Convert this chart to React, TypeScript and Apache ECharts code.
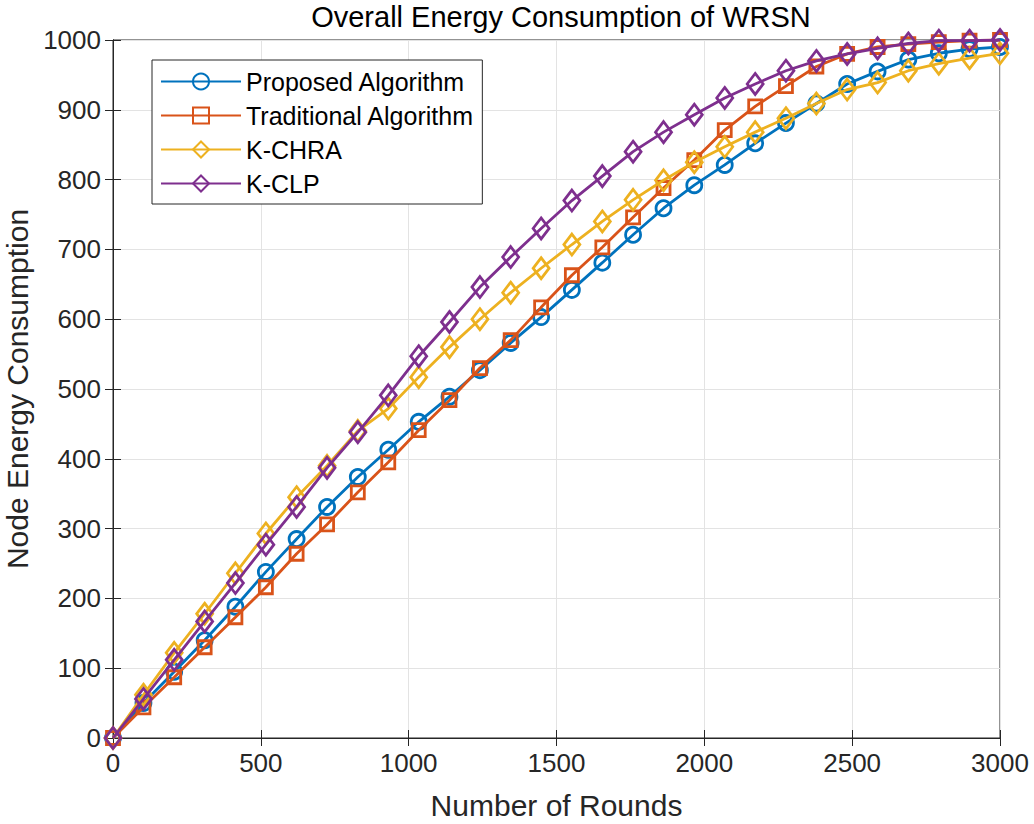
import React, { useEffect, useRef } from "react";
import * as echarts from "echarts";

const rounds: number[] = Array.from({ length: 30 }, (_, i) => Math.round((i * 3000) / 29));

const proposed = [0, 50, 95, 140, 188, 238, 285, 331, 374, 413, 453, 489, 527, 566, 603, 642, 681, 721, 759, 792, 821, 852, 881, 909, 937, 955, 972, 981, 987, 990];
const traditional = [0, 44, 87, 130, 173, 216, 264, 306, 352, 395, 441, 484, 530, 570, 617, 663, 703, 746, 788, 828, 871, 905, 934, 962, 980, 990, 994, 997, 999, 1000];
const kchra = [0, 62, 122, 178, 236, 293, 345, 390, 440, 472, 517, 560, 600, 638, 673, 707, 740, 771, 799, 825, 847, 868, 888, 909, 929, 939, 956, 966, 974, 981];
const kclp = [0, 56, 112, 167, 222, 277, 331, 387, 438, 491, 547, 596, 646, 689, 730, 770, 805, 840, 868, 893, 917, 937, 956, 970, 980, 988, 995, 999, 999, 1000];

const seriesNames = ["Proposed Algorithm", "Traditional Algorithm", "K-CHRA", "K-CLP"];
const colors = ["#0072BD", "#D95319", "#EDB120", "#7E2F8E"];
const symbols = ["circle", "rect", "diamond", "diamond"];
const symbolSizes: any[] = [15, 13, [16, 21], [16, 21]];
const seriesData = [proposed, traditional, kchra, kclp];

const FONT = "'Liberation Sans', Arial, Helvetica, sans-serif";

export default function App() {
  const ref = useRef<HTMLDivElement>(null);
  useEffect(() => {
    if (!ref.current) return;
    const chart = echarts.init(ref.current, undefined, { renderer: "svg" });
    const axisColor = "#262626";
    const plain = (v: number) => String(v);
    chart.setOption({
      animation: false,
      backgroundColor: "#ffffff",
      title: {
        text: "Overall Energy Consumption of WRSN",
        left: 556,
        top: -3,
        textAlign: "center",
        textStyle: { fontFamily: FONT, fontSize: 29, fontWeight: "normal", color: "#000" },
      },
      legend: {
        orient: "vertical",
        left: 152,
        top: 60,
        padding: [9, 8, 8, 8],
        itemGap: 9,
        itemWidth: 80,
        itemHeight: 20,
        backgroundColor: "#fff",
        borderColor: "#262626",
        borderWidth: 1,
        borderRadius: 0,
        textStyle: { fontFamily: FONT, fontSize: 25, color: "#000", lineHeight: 24 },
        data: seriesNames,
      },
      grid: {
        left: 113,
        right: 34,
        top: 40,
        bottom: 86,
        containLabel: false,
        outerBoundsMode: "none",
        show: true,
        borderColor: axisColor,
        borderWidth: 1,
        backgroundColor: "#fff",
      },
      xAxis: [
        {
          type: "value",
          min: 0,
          max: 3000,
          interval: 500,
          name: "Number of Rounds",
          nameLocation: "middle",
          nameGap: 52,
          nameTextStyle: { fontFamily: FONT, fontSize: 30, color: "#262626" },
          axisLine: { show: true, lineStyle: { color: axisColor, width: 1 } },
          axisTick: { show: true, inside: true, length: 8, lineStyle: { color: axisColor } },
          axisLabel: { fontFamily: FONT, fontSize: 26, color: "#262626", margin: 12, formatter: plain },
          splitLine: { show: true, lineStyle: { color: "#e3e3e3", width: 1 } },
        },
        {
          type: "value",
          position: "top",
          min: 0,
          max: 3000,
          interval: 500,
          axisLine: { show: true, lineStyle: { color: axisColor, width: 1 } },
          axisTick: { show: true, inside: true, length: 8, lineStyle: { color: axisColor } },
          axisLabel: { show: false },
          splitLine: { show: false },
        },
      ],
      yAxis: [
        {
          type: "value",
          min: 0,
          max: 1000,
          interval: 100,
          name: "Node Energy Consumption",
          nameLocation: "middle",
          nameGap: 79,
          nameRotate: 90,
          nameTextStyle: { fontFamily: FONT, fontSize: 30, color: "#262626" },
          axisLine: { show: true, lineStyle: { color: axisColor, width: 1 } },
          axisTick: { show: true, inside: true, length: 8, lineStyle: { color: axisColor } },
          axisLabel: { fontFamily: FONT, fontSize: 26, color: "#262626", margin: 12, formatter: plain },
          splitLine: { show: true, lineStyle: { color: "#e3e3e3", width: 1 } },
        },
        {
          type: "value",
          position: "right",
          min: 0,
          max: 1000,
          interval: 100,
          axisLine: { show: true, lineStyle: { color: axisColor, width: 1 } },
          axisTick: { show: true, inside: true, length: 8, lineStyle: { color: axisColor } },
          axisLabel: { show: false },
          splitLine: { show: false },
        },
      ],
      series: seriesNames.map((name, k) => ({
        name,
        type: "line",
        xAxisIndex: 0,
        yAxisIndex: 0,
        data: rounds.map((r, i) => [r, seriesData[k][i]]),
        symbol: symbols[k],
        symbolSize: symbolSizes[k],
        showAllSymbol: true,
        lineStyle: { color: colors[k], width: 2.8 },
        itemStyle: { color: "rgba(255,255,255,0)", borderColor: colors[k], borderWidth: 2.8 },
        emphasis: { disabled: true },
        z: 2 + k,
      })),
    });
    return () => chart.dispose();
  }, []);
  return (
    <div
      ref={ref}
      style={{ position: "fixed", left: 0, top: 0, width: 1034, height: 824 }}
    />
  );
}
